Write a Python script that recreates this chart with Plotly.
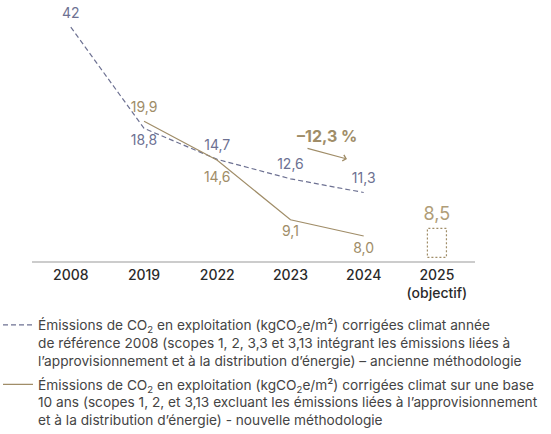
import plotly.graph_objects as go

categories = ["2008", "2019", "2022", "2023", "2024", "2025<br>(objectif)"]
old_years = ["2008", "2019", "2022", "2023", "2024"]
old_values = [42, 18.8, 14.7, 12.6, 11.3]
old_decimals = [0, 1, 1, 1, 1]
old_textpos = ["top center", "bottom center", "top center", "top center", "top center"]
new_years = ["2019", "2022", "2023", "2024"]
new_values = [19.9, 14.6, 9.1, 8.0]
new_textpos = ["top center", "bottom center", "bottom center", "bottom center"]
target_year = "2025<br>(objectif)"
target_value = 8.5
change_label = "–12,3 %"

old_name = ("Émissions de CO<sub>2</sub> en exploitation (kgCO<sub>2</sub>e/m²) corrigées climat année<br>"
            "de référence 2008 (scopes 1, 2, 3,3 et 3,13 intégrant les émissions liées à<br>"
            "l’approvisionnement et à la distribution d’énergie) – ancienne méthodologie")
new_name = ("Émissions de CO<sub>2</sub> en exploitation (kgCO<sub>2</sub>e/m²) corrigées climat sur une base<br>"
            "10 ans (scopes 1, 2, et 3,13 excluant les émissions liées à l’approvisionnement<br>"
            "et à la distribution d’énergie) - nouvelle méthodologie")

OLD_COLOR = "#6d7192"
NEW_COLOR = "#a08d68"
FONT = "Inter"
CLEAR = "rgba(0,0,0,0)"


def fmt(v, d=1):
    return f"{v:.{d}f}".replace(".", ",")


old_text = [fmt(v, d) for v, d in zip(old_values, old_decimals)]
new_text = [fmt(v) for v in new_values]

y_range = [0.817, 1.665]
y_bottom = 10 ** y_range[0]

fig = go.Figure()
fig.add_trace(go.Scatter(
    x=old_years, y=old_values, mode="lines+markers+text", name=old_name,
    legendgroup="old", cliponaxis=False,
    line=dict(color=OLD_COLOR, width=1.2, dash="5px,3px"),
    marker=dict(size=8, color=CLEAR, line=dict(width=0, color=CLEAR)),
    text=old_text, textposition=old_textpos,
    textfont=dict(color=OLD_COLOR, size=14, family=FONT),
))
fig.add_trace(go.Scatter(
    x=new_years, y=new_values, mode="lines+markers+text", name=new_name,
    legendgroup="new", cliponaxis=False,
    line=dict(color=NEW_COLOR, width=1.2),
    marker=dict(size=[8, 16, 8, 8], color=CLEAR, line=dict(width=0, color=CLEAR)),
    text=new_text, textposition=new_textpos,
    textfont=dict(color=NEW_COLOR, size=14, family=FONT),
))
fig.add_trace(go.Scatter(
    x=[target_year], y=[target_value], mode="markers+text", showlegend=False,
    cliponaxis=False,
    marker=dict(size=4, color=CLEAR, line=dict(width=0, color=CLEAR)),
    text=[fmt(target_value)], textposition="top center",
    textfont=dict(color="#b09d78", size=18, family=FONT),
))

fig.add_shape(type="rect", xref="x", yref="y",
              x0=4.87, x1=5.13, y0=y_bottom * 1.03, y1=target_value,
              line=dict(color=NEW_COLOR, width=1.2, dash="2px,2px"))

fig.add_annotation(xref="paper", yref="paper", x=(327 - 32) / 443, y=(261 - 136) / 246,
                   text=f"<b>{change_label}</b>", showarrow=False,
                   font=dict(color=NEW_COLOR, size=16, family=FONT))
fig.add_annotation(xref="paper", yref="paper", x=(347 - 32) / 443, y=(261 - 159) / 246,
                   ax=-41, ay=-11, axref="pixel", ayref="pixel", text="",
                   showarrow=True, arrowhead=4, arrowsize=1, arrowwidth=1.2,
                   arrowcolor=NEW_COLOR)

fig.update_layout(
    width=551, height=434,
    margin=dict(l=32, r=76, t=15, b=173, autoexpand=False),
    paper_bgcolor="white", plot_bgcolor="white",
    font=dict(family=FONT, color="#333333", size=13),
    showlegend=True,
    legend=dict(x=-34 / 443, xanchor="left", y=-0.197, yanchor="top",
                valign="top", tracegroupgap=3,
                font=dict(size=13.7, color="#444444", family=FONT),
                bgcolor="rgba(0,0,0,0)"),
    xaxis=dict(type="category", categoryorder="array", categoryarray=categories,
               range=[-0.53, 5.52], showgrid=False, zeroline=False,
               showline=True, linecolor="#cccccc", linewidth=1.5,
               ticks="", tickfont=dict(size=14, color="#2a2a2a", family=FONT, weight=500)),
    yaxis=dict(type="log", range=y_range, visible=False, showgrid=False),
)

fig.write_html("out.html", config={"displayModeBar": False},
               post_script="document.body.style.margin='0';")
